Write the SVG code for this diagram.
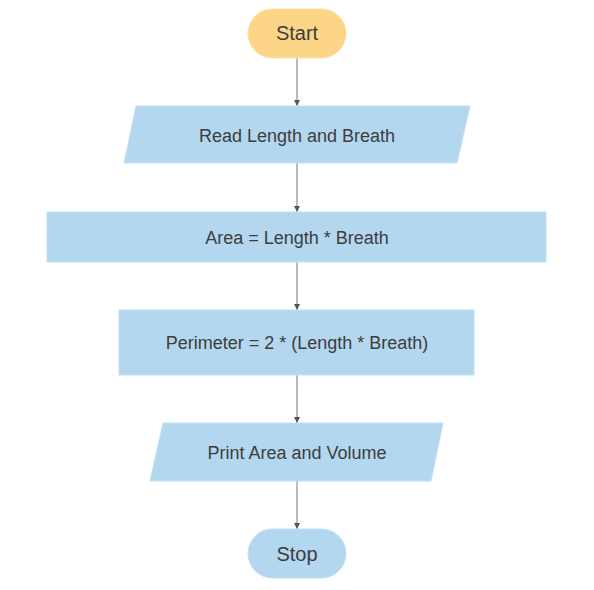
<svg xmlns="http://www.w3.org/2000/svg" width="594" height="590" viewBox="0 0 594 590">
<style>
.t{font-family:"Liberation Sans",Arial,sans-serif;fill:#3d3d3d;text-anchor:middle}
.s{font-size:18px}
.b{font-size:20px}
.blue{fill:#b3d7ee;stroke:#c4e0f2;stroke-width:1}
.orange{fill:#fdd587;stroke:#fde0a6;stroke-width:1}
.c{stroke:#8c8c8c;stroke-width:1.2;fill:none;marker-end:url(#ah)}
</style>
<defs>
<marker id="ah" viewBox="0 0 10 10" refX="10" refY="5" markerWidth="6" markerHeight="6" markerUnits="userSpaceOnUse" orient="auto">
<path d="M0,0 L10,5 L0,10 Z" fill="#555"/>
</marker>
</defs>
<rect width="594" height="590" fill="#fff"/>
<g id="connectors">
<line class="c" x1="297" y1="58" x2="297" y2="106"/>
<line class="c" x1="297" y1="163" x2="297" y2="212"/>
<line class="c" x1="297" y1="262" x2="297" y2="310"/>
<line class="c" x1="297" y1="375" x2="297" y2="423"/>
<line class="c" x1="297" y1="481" x2="297" y2="529"/>
</g>
<g id="start">
<rect class="orange" x="248" y="9" width="98" height="49" rx="24.5"/>
<text class="t b" x="297" y="40">Start</text>
</g>
<g id="read">
<polygon class="blue" points="136,106 470,106 457,163 124,163"/>
<text class="t s" x="297" y="142">Read Length and Breath</text>
</g>
<g id="area">
<rect class="blue" x="47" y="212" width="499" height="50"/>
<text class="t s" x="297" y="244">Area = Length * Breath</text>
</g>
<g id="perimeter">
<rect class="blue" x="119" y="310" width="355" height="65"/>
<text class="t s" x="297" y="349">Perimeter = 2 * (Length * Breath)</text>
</g>
<g id="print">
<polygon class="blue" points="163,423 443,423 431,481 150,481"/>
<text class="t s" x="297" y="459">Print Area and Volume</text>
</g>
<g id="stop">
<rect class="blue" x="248" y="529" width="98" height="49" rx="24.5"/>
<text class="t b" x="297" y="561">Stop</text>
</g>
</svg>
